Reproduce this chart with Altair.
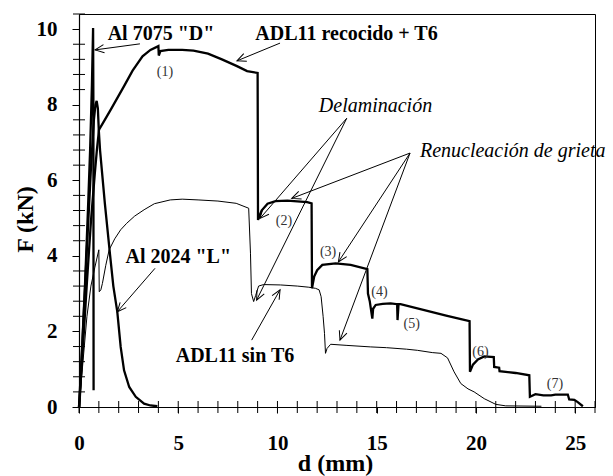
import math
import altair as alt
import pandas as pd

# ---------------- data ----------------
al7075_d = [0.0, 0.15, 0.3, 0.45, 0.56, 0.65, 0.71, 0.725, 0.735]
al7075_f = [0.0, 1.5, 3.2, 5.2, 6.8, 8.5, 10.03, 8.0, 0.44]

al2024_d = [0.02, 0.2, 0.4, 0.6, 0.75, 0.83, 0.89, 0.95, 1.0, 1.06, 1.3, 1.57, 1.73,
            1.93, 2.1, 2.27, 2.53, 2.86, 3.28, 3.6, 3.95]
al2024_f = [0.0, 2.0, 4.2, 6.3, 7.6, 8.0, 8.1, 7.9, 7.3, 6.8, 5.4, 4.0, 3.2,
            2.52, 1.59, 0.97, 0.53, 0.27, 0.09, 0.04, 0.02]

adl_t6_d = [0.0, 0.2, 0.4, 0.6, 0.8, 0.9, 1.01, 1.3, 1.6, 2.27, 2.7, 3.2, 3.6, 4.0,
            4.02, 4.1, 4.5, 5.2, 5.77, 6.5, 7.2, 7.96, 8.47, 9.0, 9.02, 9.2, 9.5, 9.9,
            10.5, 11.5, 11.72, 11.74, 11.85, 12.0, 12.26, 12.93, 13.69, 14.53, 14.56,
            14.65, 14.78, 14.82, 14.95, 15.3, 15.7, 16.03, 16.05, 16.1, 16.2, 17.5,
            18.5, 19.68, 19.70, 19.85, 20.1, 20.42, 20.9, 20.92, 21.17, 21.19, 22.0,
            22.69, 22.72, 23.0, 23.4, 23.79, 24.0, 24.63, 24.7, 24.96, 25.13, 25.39]
adl_t6_f = [0.0, 1.6, 3.3, 4.9, 6.2, 6.8, 7.34, 7.6, 7.87, 8.49, 8.9, 9.28, 9.45, 9.55,
            9.3, 9.42, 9.45, 9.45, 9.43, 9.35, 9.2, 9.02, 8.89, 8.84, 4.95, 5.2, 5.38, 5.45,
            5.46, 5.42, 5.39, 3.14, 3.45, 3.62, 3.76, 3.8, 3.76, 3.65, 3.0,
            2.8, 2.34, 2.6, 2.7, 2.73, 2.74, 2.72, 2.3, 2.72, 2.72, 2.55,
            2.42, 2.27, 0.93, 1.12, 1.26, 1.34, 1.32, 1.06, 1.04, 0.95, 0.9,
            0.84, 0.27, 0.34, 0.31, 0.31, 0.33, 0.33, 0.2, 0.19, 0.13, 0.02]

adl_sin_d = [0.0, 0.2, 0.4, 0.6, 0.8, 1.0, 1.02, 1.1, 1.18, 1.35, 1.52, 1.8, 2.1, 2.4,
             2.8, 3.28, 3.8, 4.6, 5.2, 6.0, 7.0, 7.92, 8.55, 8.64, 8.69, 8.8, 8.9, 9.05,
             9.3, 10.15, 11.0, 11.58, 11.92, 12.1, 12.2, 12.3, 12.37, 12.42, 12.5, 12.68,
             13.5, 14.7, 15.5, 16.5, 17.05, 17.8, 18.24, 18.57, 18.9, 19.24, 19.6, 19.91,
             20.42, 21.0, 21.5, 23.3]
adl_sin_f = [0.0, 1.2, 2.4, 3.2, 3.7, 4.16, 3.05, 3.1, 3.27, 3.75, 4.16, 4.45, 4.69, 4.86,
             5.05, 5.22, 5.38, 5.48, 5.5, 5.48, 5.45, 5.39, 5.26, 4.07, 3.0, 2.79, 2.95, 3.2,
             3.24, 3.23, 3.2, 3.17, 3.14, 3.1, 2.92, 2.4, 1.95, 1.42, 1.55, 1.66,
             1.63, 1.59, 1.57, 1.53, 1.5, 1.44, 1.42, 1.3, 0.93, 0.62, 0.48, 0.4,
             0.22, 0.07, 0.03, 0.02]

# annotation arrows: tail (x1,y1) -> head (x2,y2)
arrow_x1 = [3.07, 10.13, 13.49, 13.49, 16.68, 16.68, 16.68, 3.83, 8.70]
arrow_y1 = [9.61, 9.63, 7.64, 7.64, 6.72, 6.72, 6.72, 3.67, 1.77]
arrow_x2 = [0.81, 7.96, 9.12, 8.95, 10.72, 13.07, 13.15, 1.93, 10.13]
arrow_y2 = [9.45, 9.16, 4.99, 2.83, 5.52, 3.84, 1.77, 2.52, 3.10]

bold_text = ['Al 7075 "D"', 'ADL11 recocido + T6', 'Al 2024 "L"', 'ADL11 sin T6']
bold_x = [4.13, 13.48, 5.0, 7.86]
bold_y = [9.71, 9.71, 3.80, 1.20]

italic_text = ['Delaminación', 'Renucleación de grieta']
italic_x = [14.94, 17.18]
italic_y = [7.81, 6.62]
italic_align = ['center', 'left']

num_text = ['(1)', '(2)', '(3)', '(4)', '(5)', '(6)', '(7)']
num_x = [4.33, 10.33, 12.55, 15.14, 16.76, 20.23, 23.98]
num_y = [8.76, 4.82, 3.99, 2.93, 2.09, 1.35, 0.50]

x_major = [0, 5, 10, 15, 20, 25]
x_minor = [v for v in range(0, 27) if v % 5]
y_major = [0, 2, 4, 6, 8, 10]
y_minor = [round(i * 0.4, 1) for i in range(1, 27) if i % 5]

X_MAX, Y_MAX = 26, 10.4
W, H = 516, 393
FONT = "Liberation Serif"

# ---------------- tables ----------------
rows = []
for name, ds, fs in [("al7075", al7075_d, al7075_f), ("al2024", al2024_d, al2024_f),
                     ("adl_t6", adl_t6_d, adl_t6_f), ("adl_sin", adl_sin_d, adl_sin_f)]:
    for i, (d, f) in enumerate(zip(ds, fs)):
        rows.append({"series": name, "d": d, "F": f, "o": i})
df = pd.DataFrame(rows)
thick = df[df.series != "adl_sin"]
thin = df[df.series == "adl_sin"]

px_x, px_y = W / X_MAX, H / Y_MAX
arr = pd.DataFrame({"x1": arrow_x1, "y1": arrow_y1, "x2": arrow_x2, "y2": arrow_y2})
arr["ang"] = [
    math.degrees(math.atan2(-(b2 - b1) * px_y, (a2 - a1) * px_x)) % 360
    for a1, b1, a2, b2 in zip(arrow_x1, arrow_y1, arrow_x2, arrow_y2)
]

bold_df = pd.DataFrame({"t": bold_text, "x": bold_x, "y": bold_y})
ital_df = pd.DataFrame({"t": italic_text, "x": italic_x, "y": italic_y, "a": italic_align})
num_df = pd.DataFrame({"t": num_text, "x": num_x, "y": num_y})

xs = alt.Scale(domain=[0, X_MAX], nice=False, zero=False)
ys = alt.Scale(domain=[0, Y_MAX], nice=False, zero=False)

x_main = alt.Axis(values=x_major, orient="bottom", tickSize=6, labelPadding=19,
                  labelFont=FONT, labelFontWeight="bold", labelFontSize=21,
                  labelColor="black", tickColor="black", domainColor="black",
                  title="d (mm)", titleFont=FONT, titleFontWeight="bold", titleFontSize=24,
                  titleColor="black", titleX=256, titleY=63, titleBaseline="alphabetic",
                  titleAlign="center", grid=False, labelFlush=False)
y_main = alt.Axis(values=y_major, orient="left", tickSize=7, labelPadding=15,
                  labelFont=FONT, labelFontWeight="bold", labelFontSize=21,
                  labelColor="black", tickColor="black", domainColor="black",
                  title="F (kN)", titleFont=FONT, titleFontWeight="bold", titleFontSize=24,
                  titleColor="black", titleAngle=270, titleX=-47, titleY=205,
                  titleBaseline="alphabetic", titleAlign="center", grid=False,
                  labelFlush=False)

lines_thick = alt.Chart(thick).mark_line(color="black", strokeWidth=2.3).encode(
    x=alt.X("d:Q", scale=xs, axis=x_main),
    y=alt.Y("F:Q", scale=ys, axis=y_main),
    detail="series:N", order="o:Q")

lines_thin = alt.Chart(thin).mark_line(color="black", strokeWidth=1).encode(
    x=alt.X("d:Q", scale=xs), y=alt.Y("F:Q", scale=ys), order="o:Q")

# inward ticks (minor + inner half of major on x), positioned through the scales
xin = pd.DataFrame({"v": x_minor + x_major})
yin = pd.DataFrame({"v": y_minor})
x_in_ticks = alt.Chart(xin).mark_tick(
    orient="vertical", size=12, thickness=1, color="black", opacity=1, filled=True).encode(
    x=alt.X("v:Q", scale=xs), y=alt.value(H))
y_in_ticks = alt.Chart(yin).mark_tick(
    orient="horizontal", size=12, thickness=1, color="black", opacity=1, filled=True).encode(
    y=alt.Y("v:Q", scale=ys), x=alt.value(0))

arrow_lines = alt.Chart(arr).mark_rule(color="black", strokeWidth=1).encode(
    x=alt.X("x1:Q", scale=xs), y=alt.Y("y1:Q", scale=ys),
    x2="x2:Q", y2="y2:Q")

arrow_heads = alt.Chart(arr).mark_point(
    shape="M-1,-0.45L0,0L-1,0.45", filled=False, color="black", opacity=1,
    strokeWidth=1, size=324).encode(
    x=alt.X("x2:Q", scale=xs), y=alt.Y("y2:Q", scale=ys),
    angle=alt.Angle("ang:Q", scale=None))

bold_labels = alt.Chart(bold_df).mark_text(
    font=FONT, fontWeight="bold", fontSize=20, color="black", align="center",
    baseline="alphabetic").encode(
    x=alt.X("x:Q", scale=xs), y=alt.Y("y:Q", scale=ys), text="t:N")

ital_center = alt.Chart(ital_df[ital_df.a == "center"]).mark_text(
    font=FONT, fontStyle="italic", fontSize=20, color="black", align="center",
    baseline="alphabetic").encode(
    x=alt.X("x:Q", scale=xs), y=alt.Y("y:Q", scale=ys), text="t:N")
ital_left = alt.Chart(ital_df[ital_df.a == "left"]).mark_text(
    font=FONT, fontStyle="italic", fontSize=20, color="black", align="left",
    baseline="alphabetic").encode(
    x=alt.X("x:Q", scale=xs), y=alt.Y("y:Q", scale=ys), text="t:N")

num_labels = alt.Chart(num_df).mark_text(
    font=FONT, fontSize=14, color="#333333", align="center", baseline="alphabetic").encode(
    x=alt.X("x:Q", scale=xs), y=alt.Y("y:Q", scale=ys), text="t:N")

chart = alt.layer(
    lines_thick, lines_thin, x_in_ticks, y_in_ticks, arrow_lines, arrow_heads,
    bold_labels, ital_center, ital_left, num_labels
).properties(
    width=W, height=H,
    autosize=alt.AutoSizeParams(type="none"),
    padding={"left": 79, "top": 14, "right": 18, "bottom": 69},
    background="white",
).configure_view(stroke="black", strokeWidth=1).configure_axis(domainWidth=1.2)

chart.save("out.html", embed_options={"renderer": "svg", "actions": False})
